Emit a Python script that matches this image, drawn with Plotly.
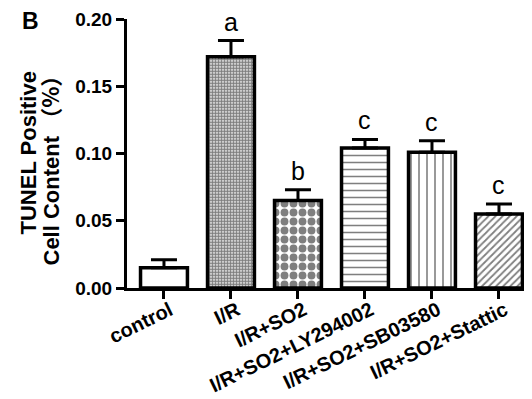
import plotly.graph_objects as go

categories = ["control", "I/R", "I/R+SO2", "I/R+SO2+LY294002", "I/R+SO2+SB03580", "I/R+SO2+Stattic"]
means = [0.015, 0.172, 0.065, 0.104, 0.101, 0.055]
sems = [0.006, 0.012, 0.008, 0.0065, 0.0085, 0.0075]
letters = ["", "a", "b", "c", "c", "c"]
y_ticks = [0.00, 0.05, 0.10, 0.15, 0.20]

FONT = "Arial, Liberation Sans, Noto Sans CJK SC, sans-serif"

fig = go.Figure()
fig.add_trace(go.Bar(
    x=list(range(len(categories))),
    y=means,
    width=0.7,
    marker=dict(
        color="white",
        line=dict(color="black", width=3.5),
        pattern=dict(
            shape=["", ".", ".", "-", "|", "/"],
            size=[6, 3, 9, 7, 8, 5],
            solidity=[0.3, 0.7, 0.6, 0.22, 0.2, 0.35],
            fgcolor="black",
            bgcolor="white",
            fillmode="overlay",
        ),
    ),
    error_y=dict(type="data", array=sems, arrayminus=[0] * len(sems), symmetric=False,
                 color="black", thickness=3, width=13),
    showlegend=False,
))

for i, (m, s, l) in enumerate(zip(means, sems, letters)):
    if l:
        fig.add_annotation(x=i, y=m + s, text=l, showarrow=False, xref="x", yref="y",
                           yanchor="bottom", yshift=3,
                           font=dict(family=FONT, size=25, color="black"))

fig.add_annotation(xref="paper", yref="paper", x=0, y=0.5, xshift=-99, yshift=0,
                   text="<b>TUNEL Positive</b>", textangle=-90, showarrow=False,
                   xanchor="center", yanchor="middle",
                   font=dict(family=FONT, size=22, color="black"))
fig.add_annotation(xref="paper", yref="paper", x=0, y=0.5, xshift=-79, yshift=-12,
                   text="<b>Cell Content <span style=\"font-family:Noto Sans CJK SC\">（%）</span></b>",
                   textangle=-90, showarrow=False,
                   xanchor="center", yanchor="middle",
                   font=dict(family=FONT, size=22, color="black"))
fig.add_annotation(xref="paper", yref="paper", x=0, y=1, xshift=-97, yshift=-2,
                   text="<b>B</b>", showarrow=False, xanchor="center", yanchor="middle",
                   font=dict(family=FONT, size=23, color="black"))

fig.update_layout(
    width=524, height=391,
    margin=dict(l=119, r=2, t=11, b=111, autoexpand=False),
    plot_bgcolor="white", paper_bgcolor="white",
    font=dict(family=FONT, color="black"),
    bargap=0.3,
)
fig.update_xaxes(
    range=[-0.552, 5.463],
    tickvals=list(range(len(categories))), ticktext=[f"<b>{c}</b>" for c in categories],
    tickangle=-26, tickfont=dict(family=FONT, size=20, color="black"),
    ticklabelstandoff=-8, ticklabelshift=6,
    showline=True, linecolor="black", linewidth=3,
    ticks="outside", ticklen=8, tickwidth=3, tickcolor="black",
    showgrid=False, zeroline=False, automargin=False,
)
fig.update_yaxes(
    range=[0, 0.2],
    tickvals=y_ticks, ticktext=[f"<b>{v:.2f}</b>" for v in y_ticks],
    tickfont=dict(family=FONT, size=19, color="black"),
    showline=True, linecolor="black", linewidth=3,
    ticks="outside", ticklen=8, tickwidth=3, tickcolor="black",
    showgrid=False, zeroline=False, automargin=False,
)

fig.write_html("out.html")
